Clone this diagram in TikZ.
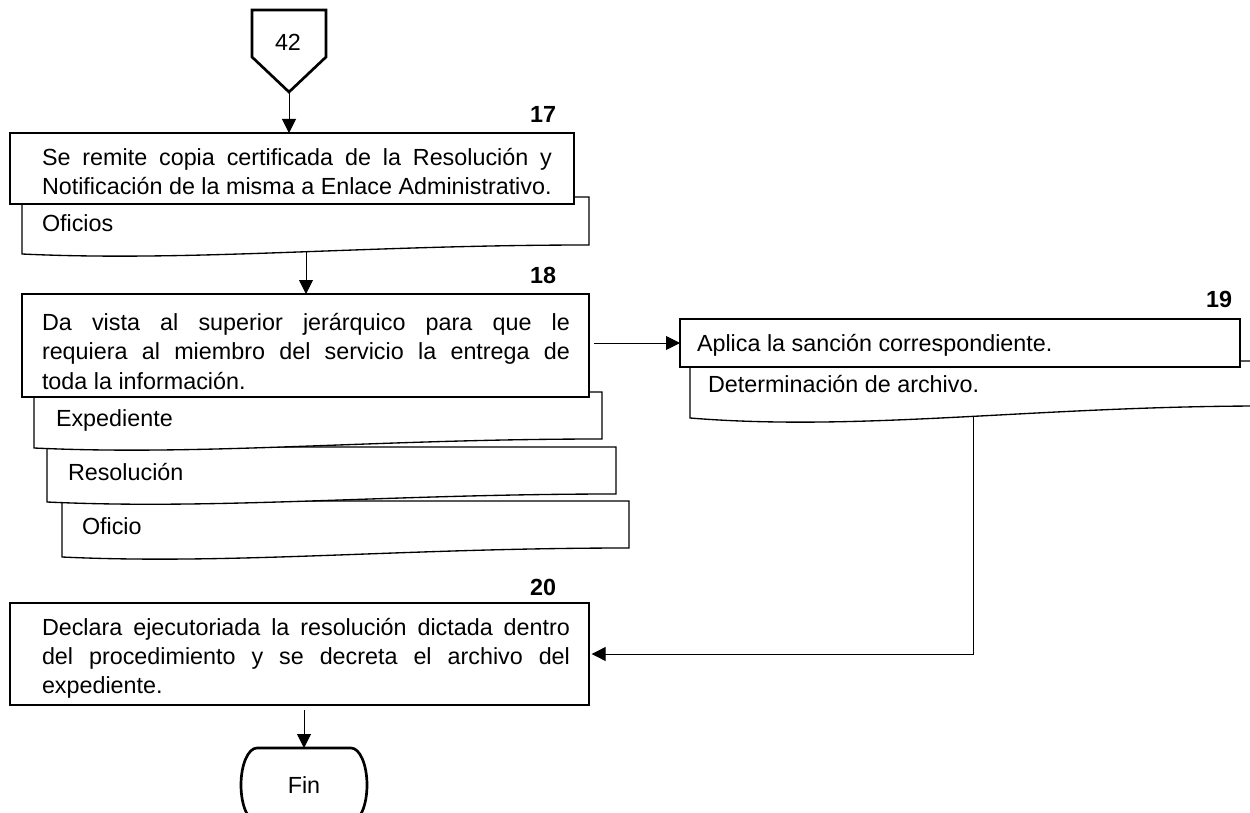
\documentclass[tikz,border=0pt]{standalone}
\usepackage{fontspec}
\setmainfont{Liberation Sans}
\usetikzlibrary{arrows.meta}
% one justified line of a fixed width
\newcommand\jl[2]{\makebox[#1][s]{#2}}
\begin{document}
\begin{tikzpicture}[x=0.75pt,y=-0.75pt,
  every node/.style={font=\fontsize{17.5pt}{22pt}\selectfont, inner sep=0pt, outer sep=0pt},
  stepbox/.style={draw, line width=1pt, fill=white, anchor=north west},
  doc/.style={draw, line width=1pt, fill=white},
  txt/.style={anchor=base west},
  num/.style={anchor=base east, font=\fontsize{17.5pt}{22pt}\selectfont\bfseries},
  arr/.style={line width=0.75pt, -{Triangle[length=10.5pt, width=10.5pt]}},
  link/.style={line width=0.75pt}]
\clip (0,0) rectangle (1250,813);
\fill[white] (0,0) rectangle (1250,813);

% off-page connector 42
\draw[line width=2pt, line join=miter] (252,10) -- (326,10) -- (326,57) -- (289,92) -- (252,57) -- cycle;
\node[anchor=base] (n42) at (288,51) {42};
\coordinate (t42) at (289,92);

% step 17
\draw[doc] (22,197) -- (589,197) -- (589,245) .. controls (362,245) and (192,262) .. (22,254) -- cycle;
\coordinate (d17out) at (306,252);
\node[stepbox, minimum width=423pt, minimum height=53.25pt] (b17) at (10,133) {};
\node[num] (l17) at (556,123) {17};
\node[txt] (t17a) at (42,166) {\jl{382.5pt}{Se remite copia certificada de la Resolución y}};
\node[txt] (t17b) at (42,195) {Notificación de la misma a Enlace Administrativo.};
\node[txt] (o17) at (42,232) {Oficios};

% step 18
\draw[doc] (62,501) -- (629,501) -- (629,548) .. controls (402,548) and (232,565) .. (62,557) -- cycle;
\draw[doc] (47,447) -- (616,447) -- (616,494) .. controls (388,494) and (218,510) .. (47,502) -- cycle;
\draw[doc] (34,392) -- (602,392) -- (602,439) .. controls (375,439) and (204,456) .. (34,448) -- cycle;
\node[stepbox, minimum width=425.25pt, minimum height=77.25pt] (b18) at (22,294) {};
\node[num] (l18) at (556,283) {18};
\node[txt] (t18a) at (42,330) {\jl{396pt}{Da vista al superior jerárquico para que le}};
\node[txt] (t18b) at (42,359) {\jl{396pt}{requiera al miembro del servicio la entrega de}};
\node[txt] (t18c) at (42,389) {toda la información.};
\node[txt] (e18) at (56,426) {Expediente};
\node[txt] (r18) at (68,480) {Resolución};
\node[txt] (o18) at (82,534) {Oficio};

% step 19
\draw[doc] (690,361) -- (1265,361) -- (1265,406) .. controls (1035,406) and (862,432) .. (690,418) -- cycle;
\coordinate (d19out) at (973,416);
\node[stepbox, minimum width=420pt, minimum height=36pt] (b19) at (680,319) {};
\node[num] (l19) at (1232,307) {19};
\node[txt] (t19) at (697,351) {Aplica la sanción correspondiente.};
\node[txt] (a19) at (708,392) {Determinación de archivo.};

% step 20
\node[stepbox, minimum width=434.25pt, minimum height=76.5pt] (b20) at (10,603) {};
\node[num] (l20) at (556,595) {20};
\node[txt] (t20a) at (42,635) {\jl{396pt}{Declara ejecutoriada la resolución dictada dentro}};
\node[txt] (t20b) at (42,664) {\jl{396pt}{del procedimiento y se decreta el archivo del}};
\node[txt] (t20c) at (42,693) {expediente.};

% terminator
\node[minimum width=94.5pt, minimum height=55.5pt] (fin) at (304,785) {Fin};
\draw[line width=2pt] (fin.north west) ++(16,0) -- ([xshift=-12pt]fin.north east)
  arc[start angle=90, end angle=-90, x radius=12pt, y radius=27.75pt]
  -- ([xshift=12pt]fin.south west)
  arc[start angle=270, end angle=90, x radius=12pt, y radius=27.75pt] -- cycle;

% connectors
\draw[arr] (t42) -- (t42 |- b17.north);
\draw[arr] (d17out) -- (d17out |- b18.north);
\draw[arr, shorten <=4pt] (b18.east |- b19.west) -- (b19.west);
\draw[arr, shorten >=2pt] (d19out) |- (b20.east);
\draw[arr, shorten <=4pt] (b20.south -| fin.north) -- (fin.north);
\end{tikzpicture}
\end{document}
